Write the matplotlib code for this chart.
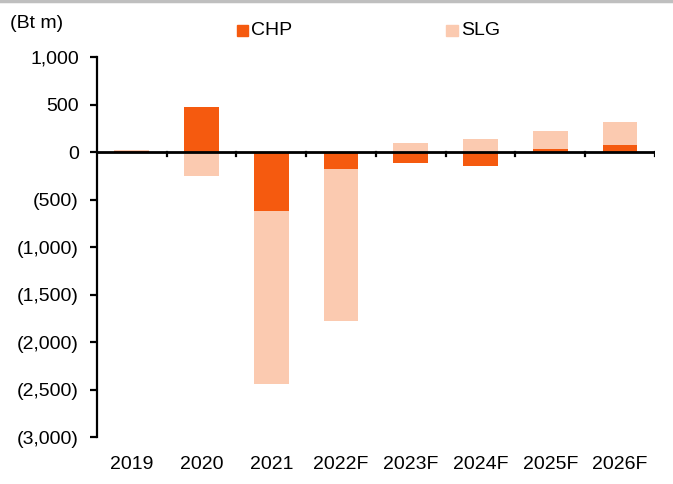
import numpy as np
import matplotlib.pyplot as plt
from matplotlib.lines import Line2D

plt.rcParams['font.family'] = ['Liberation Sans', 'DejaVu Sans']

years = ["2019", "2020", "2021", "2022F", "2023F", "2024F", "2025F", "2026F"]
chp = [15, 477, -621, -176, -119, -144, 32, 77]
slg = [5, -256, -1820, -1600, 98, 140, 190, 240]

CHP_COLOR = "#F55A0F"
SLG_COLOR = "#FBCAB0"
FS = 14


def fmt(v):
    v = int(round(v))
    if v < 0:
        return "({:,})".format(-v)
    return "{:,}".format(v)


fig = plt.figure(figsize=(6.73, 4.84), dpi=100)
ax = fig.add_axes([0.144, 0.097, 0.829, 0.785])

x = np.arange(len(years))
chp_a = np.array(chp, dtype=float)
slg_a = np.array(slg, dtype=float)
# excel-style stacking: positives go up from zero, negatives go down
slg_base = np.where(np.sign(slg_a) == np.sign(chp_a), chp_a, 0.0)
ax.bar(x, chp_a, width=0.5, color=CHP_COLOR, zorder=2)
ax.bar(x, slg_a, bottom=slg_base, width=0.5, color=SLG_COLOR, zorder=2)

ax.set_xlim(-0.5, len(years) - 0.5)
ax.set_ylim(-3000, 1000)
ax.set_yticks(np.arange(-3000, 1001, 500))
ax.set_yticklabels([fmt(v) for v in np.arange(-3000, 1001, 500)])

for s in ["top", "right", "bottom"]:
    ax.spines[s].set_visible(False)
ax.spines["left"].set_linewidth(1.6)
ax.tick_params(axis="y", direction="out", length=5, width=1.6, labelsize=FS, pad=8)

# zero line acts as category axis
ax.axhline(0, color="black", lw=2, zorder=3)
ax.set_xticks([])
for b in np.arange(0.5, len(years), 1.0):
    ax.add_line(Line2D([b, b], [0, -45], color="black", lw=1.6, zorder=3))
for i, y in enumerate(years):
    ax.text(i, -3200, y, ha="center", va="top", fontsize=FS)

fig.text(0.015, 0.952, "(Bt m)", fontsize=FS, va="center")

# legend
fig.patches.append(plt.Rectangle((0.352, 0.925), 0.017, 0.024, color=CHP_COLOR,
                                 transform=fig.transFigure, figure=fig))
fig.text(0.373, 0.937, "CHP", fontsize=FS, va="center")
fig.patches.append(plt.Rectangle((0.663, 0.925), 0.017, 0.024, color=SLG_COLOR,
                                 transform=fig.transFigure, figure=fig))
fig.text(0.685, 0.937, "SLG", fontsize=FS, va="center")

# grey rule along the top
fig.add_artist(Line2D([0, 1], [0.997, 0.997], color="#BFBFBF", lw=2.5,
                      transform=fig.transFigure))

fig.savefig("out.png", dpi=100)
